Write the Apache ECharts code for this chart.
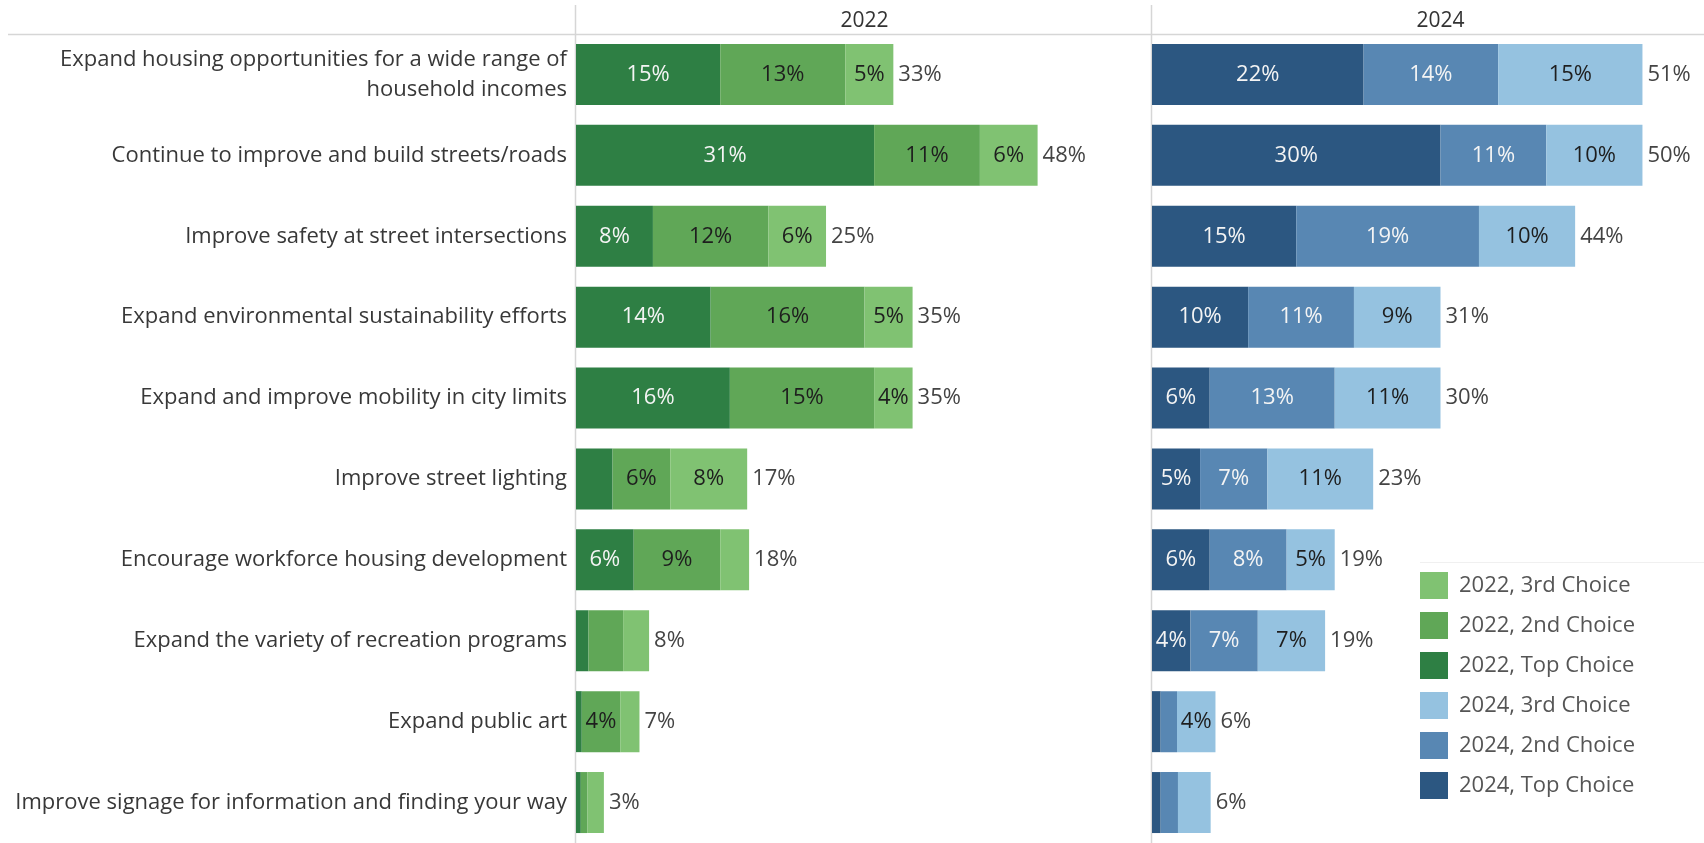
<!DOCTYPE html>
<html>
<head>
<meta charset="utf-8">
<title>Priorities 2022 vs 2024</title>
<script src="https://cdn.jsdelivr.net/npm/echarts@6/dist/echarts.min.js"></script>
<style>
  html, body { margin: 0; padding: 0; background: #fff; }
  #chart { width: 1704px; height: 843px; }
</style>
</head>
<body>
<div id="chart"></div>
<script>
// Priority statements, listed top to bottom
const categories = [
  'Expand housing opportunities for a wide range of\nhousehold incomes',
  'Continue to improve and build streets/roads',
  'Improve safety at street intersections',
  'Expand environmental sustainability efforts',
  'Expand and improve mobility in city limits',
  'Improve street lighting',
  'Encourage workforce housing development',
  'Expand the variety of recreation programs',
  'Expand public art',
  'Improve signage for information and finding your way'
];

// Share of respondents (%) per choice rank
const top2022    = [15, 31, 8, 14, 16, 3.8, 6, 1.3, 0.6, 0.5];
const second2022 = [13, 11, 12, 16, 15, 6, 9, 3.6, 4, 0.7];
const third2022  = [5, 6, 6, 5, 4, 8, 3.0, 2.7, 2.0, 1.7];
const total2022  = [33, 48, 25, 35, 35, 17, 18, 8, 7, 3];

const top2024    = [22, 30, 15, 10, 6, 5, 6, 4, 0.9, 0.9];
const second2024 = [14, 11, 19, 11, 13, 7, 8, 7, 1.7, 1.8];
const third2024  = [15, 10, 10, 9, 11, 11, 5, 7, 4, 3.4];
const total2024  = [51, 50, 44, 31, 30, 23, 19, 19, 6, 6];

const years = ['2022', '2024'];
const legendOrder = [
  '2022, 3rd Choice', '2022, 2nd Choice', '2022, Top Choice',
  '2024, 3rd Choice', '2024, 2nd Choice', '2024, Top Choice'
];

const FONT = '"Open Sans", "Noto Sans", sans-serif';
const colors = {
  '2022, Top Choice': '#2e7f44',
  '2022, 2nd Choice': '#60a757',
  '2022, 3rd Choice': '#80c272',
  '2024, Top Choice': '#2c5781',
  '2024, 2nd Choice': '#5887b3',
  '2024, 3rd Choice': '#95c2e0'
};
const labelColors = {
  '2022, Top Choice': '#f4f4f4',
  '2022, 2nd Choice': '#1e1e1e',
  '2022, 3rd Choice': '#1e1e1e',
  '2024, Top Choice': '#f4f4f4',
  '2024, 2nd Choice': '#f4f4f4',
  '2024, 3rd Choice': '#1e1e1e'
};

// Both panels share one scale (0–60 % over 577 px); the right panel is cut
// by the page edge, so its axis ends where the page does.
const CHART_W = 1704;
const PANEL_W = 577;
const PANEL_MAX = 60;
const PANEL_LEFT = [576, 1152];
const panelWidth = PANEL_LEFT.map(l => Math.min(PANEL_W, CHART_W - l));
const panelMax = panelWidth.map(w => PANEL_MAX * w / PANEL_W);

// nudges text a touch lower inside its box
const TEXT_PAD = [4, 0, 0, 0];

// A stacked segment; small segments stay unlabeled
function segment(name, values, panel) {
  return {
    name: name,
    type: 'bar',
    stack: 'y' + panel,
    xAxisIndex: panel,
    yAxisIndex: panel,
    barWidth: 61,
    data: values,
    itemStyle: { color: colors[name] },
    label: {
      show: true,
      position: 'inside',
      fontFamily: FONT,
      fontSize: 22,
      padding: TEXT_PAD,
      color: labelColors[name],
      formatter: p => (p.value >= 4 ? Math.round(p.value) + '%' : '')
    },
    emphasis: { disabled: true }
  };
}

// Zero-width bar on top of each stack, carrying the total label
function totals(values, panel) {
  return {
    name: 'total' + panel,
    type: 'bar',
    stack: 'y' + panel,
    xAxisIndex: panel,
    yAxisIndex: panel,
    barWidth: 61,
    data: values.map(() => 0),
    itemStyle: { color: 'transparent' },
    label: {
      show: true,
      position: 'right',
      distance: 5,
      fontFamily: FONT,
      fontSize: 22,
      padding: TEXT_PAD,
      color: '#444',
      formatter: p => values[p.dataIndex] + '%'
    },
    emphasis: { disabled: true }
  };
}

const grids = PANEL_LEFT.map((l, i) => ({ left: l, top: 34, width: panelWidth[i], height: 814 }));

const option = {
  animation: false,
  backgroundColor: '#ffffff',
  grid: grids,
  xAxis: grids.map((g, i) => ({
    type: 'value', gridIndex: i, min: 0, max: panelMax[i], show: false
  })),
  yAxis: grids.map((g, i) => ({
    type: 'category',
    gridIndex: i,
    inverse: true,
    data: categories,
    axisLine: { show: false },
    axisTick: { show: false },
    splitLine: { show: false },
    axisLabel: {
      show: i === 0,
      margin: 9,
      fontFamily: FONT,
      fontSize: 22,
      lineHeight: 30,
      padding: TEXT_PAD,
      color: '#383838',
      align: 'right'
    }
  })),
  legend: {
    data: legendOrder,
    orient: 'vertical',
    left: 1420,
    top: 572,
    padding: 0,
    itemWidth: 28,
    itemHeight: 27,
    itemGap: 13,
    icon: 'rect',
    selectedMode: false,
    textStyle: {
      fontFamily: FONT,
      fontSize: 22,
      color: '#555',
      padding: [0, 0, 0, 6]
    }
  },
  graphic: [
    // panel headers
    ...years.map((y, i) => ({
      type: 'text',
      x: PANEL_LEFT[i] + PANEL_W / 2,
      y: 21,
      style: {
        text: y, fontFamily: FONT, fontSize: 21, fill: '#333',
        align: 'center', verticalAlign: 'middle'
      }
    })),
    // header rule and panel dividers
    { type: 'line', shape: { x1: 8, y1: 34.5, x2: CHART_W, y2: 34.5 },
      style: { stroke: '#d6d6d6', lineWidth: 1.5 }, z: 0 },
    ...PANEL_LEFT.map(x => ({
      type: 'line', shape: { x1: x - 0.5, y1: 5, x2: x - 0.5, y2: 843 },
      style: { stroke: '#d6d6d6', lineWidth: 1.5 }, z: 0
    })),
    // faint rule above the legend
    { type: 'line', shape: { x1: 1420, y1: 562.5, x2: CHART_W, y2: 562.5 },
      style: { stroke: '#f0f0f0', lineWidth: 1 }, z: 0 }
  ],
  series: [
    segment('2022, Top Choice', top2022, 0),
    segment('2022, 2nd Choice', second2022, 0),
    segment('2022, 3rd Choice', third2022, 0),
    totals(total2022, 0),
    segment('2024, Top Choice', top2024, 1),
    segment('2024, 2nd Choice', second2024, 1),
    segment('2024, 3rd Choice', third2024, 1),
    totals(total2024, 1)
  ]
};

const chart = echarts.init(document.getElementById('chart'), null, { renderer: 'canvas' });
chart.setOption(option);
</script>
</body>
</html>
